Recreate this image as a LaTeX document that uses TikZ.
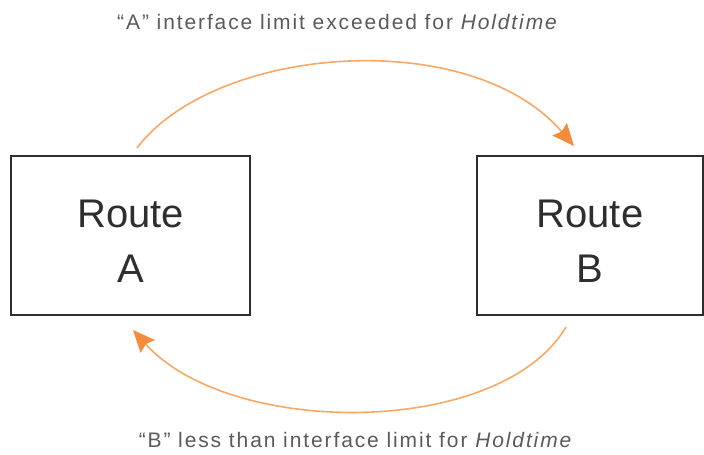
\documentclass[tikz,border=0pt]{standalone}
\usepackage{fontspec}
\setmainfont{Liberation Sans}
\usetikzlibrary{arrows.meta}
\definecolor{arc}{HTML}{F8A866}
\definecolor{tip}{HTML}{F58B3C}
\definecolor{boxc}{HTML}{2E2E2E}
\definecolor{txt}{HTML}{5A5A5A}
\tikzset{
  routebox/.style={draw=boxc, line width=2pt, minimum width=#1, minimum height=159pt, inner sep=0pt,
     align=center, text=boxc, font=\fontsize{40}{53}\selectfont},
  flow/.style={draw=arc, line width=1.6pt, -{Stealth[length=22pt,width=19pt,inset=3pt,color=tip]}},
  captext/.style={text=txt, font=\fontsize{21}{24}\selectfont\addfontfeature{LetterSpace=9}, inner sep=0pt}
}
\begin{document}
\begin{tikzpicture}[x=1pt,y=-1pt]
\useasboundingbox (0,0) rectangle (704,455);
\node[routebox=239pt] (A) at (130.5,235.5) {\begin{tabular}{@{}c@{}}\rule{0pt}{55pt}Route\\[2pt]A\end{tabular}};
\node[routebox=226pt] (B) at (590,235.5) {\begin{tabular}{@{}c@{}}\rule{0pt}{55pt}Route\\[2pt]B\end{tabular}};
\coordinate (a1) at (137,148);
\coordinate (b1) at (574,146);
\coordinate (b2) at (566,327);
\coordinate (a2) at (133,330);
\draw[flow] (a1) .. controls (215,45) and (470,25) .. (b1);
\draw[flow] (b2) .. controls (500,438) and (230,438) .. (a2);
\node[captext] (t1) at (338,22) {“A” interface limit exceeded for \textit{Holdtime}};
\node[captext] (t2) at (356,440) {“B” less than interface limit for \textit{Holdtime}};
\end{tikzpicture}
\end{document}
